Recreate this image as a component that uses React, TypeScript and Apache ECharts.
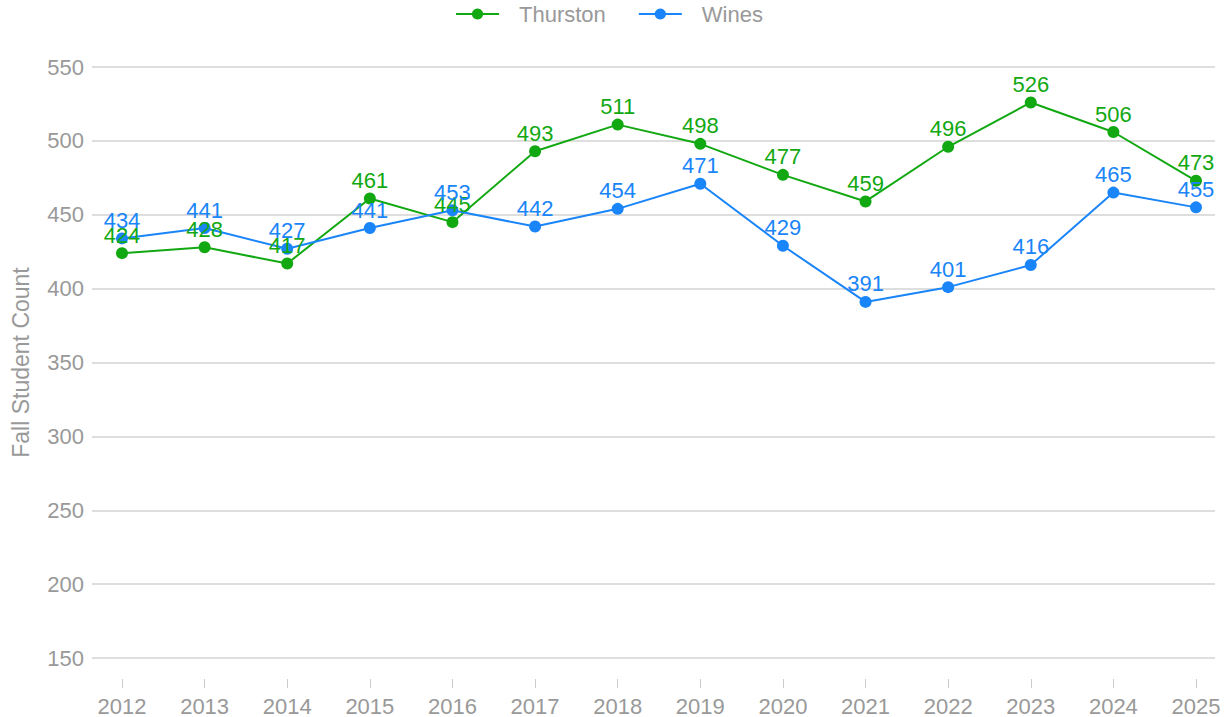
import React, { useEffect, useRef } from "react";
import * as echarts from "echarts";

const years = ["2012", "2013", "2014", "2015", "2016", "2017", "2018", "2019", "2020", "2021", "2022", "2023", "2024", "2025"];
const thurston = [424, 428, 417, 461, 445, 493, 511, 498, 477, 459, 496, 526, 506, 473];
const wines = [434, 441, 427, 441, 453, 442, 454, 471, 429, 391, 401, 416, 465, 455];
const yMin = 150;
const yMax = 550;
const yStep = 50;

const GREEN = "#12a812";
const BLUE = "#1a85f8";
const FONT = "'Liberation Sans', Arial, Helvetica, sans-serif";

export default function App() {
  const ref = useRef<HTMLDivElement>(null);
  useEffect(() => {
    if (!ref.current) return;
    const chart = echarts.init(ref.current, null, { renderer: "svg" });
    const mkSeries = (name: string, data: number[], color: string) => ({
      name,
      type: "line",
      xAxisIndex: 0,
      yAxisIndex: 0,
      data,
      symbol: "circle",
      symbolSize: 12,
      lineStyle: { color, width: 2 },
      itemStyle: { color },
      label: {
        show: true,
        position: "top",
        distance: 1,
        color,
        fontSize: 22,
        fontFamily: FONT,
      },
    });
    chart.setOption({
      animation: false,
      textStyle: { fontFamily: FONT },
      legend: {
        top: -2,
        left: 450,
        itemWidth: 43,
        itemHeight: 14,
        itemGap: 32,
        textStyle: { color: "#999", fontSize: 22, fontFamily: FONT, padding: [0, 0, 0, 15] },
        data: ["Thurston", "Wines"],
      },
      grid: [
        { left: 122, right: 29, top: 67, bottom: 59 },
        { left: 92, right: 10, top: 67, bottom: 59 },
      ],
      xAxis: [
        {
          type: "category",
          gridIndex: 0,
          data: years,
          boundaryGap: false,
          offset: 21,
          axisLine: { show: false },
          axisTick: { show: true, length: 9, alignWithLabel: true, lineStyle: { color: "#ccc" } },
          axisLabel: { color: "#999", fontSize: 22, margin: 16, fontFamily: FONT },
          splitLine: { show: false },
        },
        {
          type: "category",
          gridIndex: 1,
          data: years,
          show: false,
        },
      ],
      yAxis: [
        {
          type: "value",
          gridIndex: 0,
          min: yMin,
          max: yMax,
          interval: yStep,
          show: false,
          splitLine: { show: false },
        },
        {
          type: "value",
          gridIndex: 1,
          min: yMin,
          max: yMax,
          interval: yStep,
          name: "Fall Student Count",
          nameLocation: "middle",
          nameGap: 60,
          nameTextStyle: { color: "#999", fontSize: 23, fontFamily: FONT },
          axisLine: { show: false },
          axisTick: { show: false },
          axisLabel: { color: "#999", fontSize: 22, margin: 8, fontFamily: FONT },
          splitLine: { show: true, lineStyle: { color: "#d3d3d3", width: 1.5 } },
        },
      ],
      series: [mkSeries("Thurston", thurston, GREEN), mkSeries("Wines", wines, BLUE)],
    });
    return () => chart.dispose();
  }, []);
  return <div ref={ref} style={{ width: 1225, height: 717, position: "absolute", left: 0, top: 0 }} />;
}
